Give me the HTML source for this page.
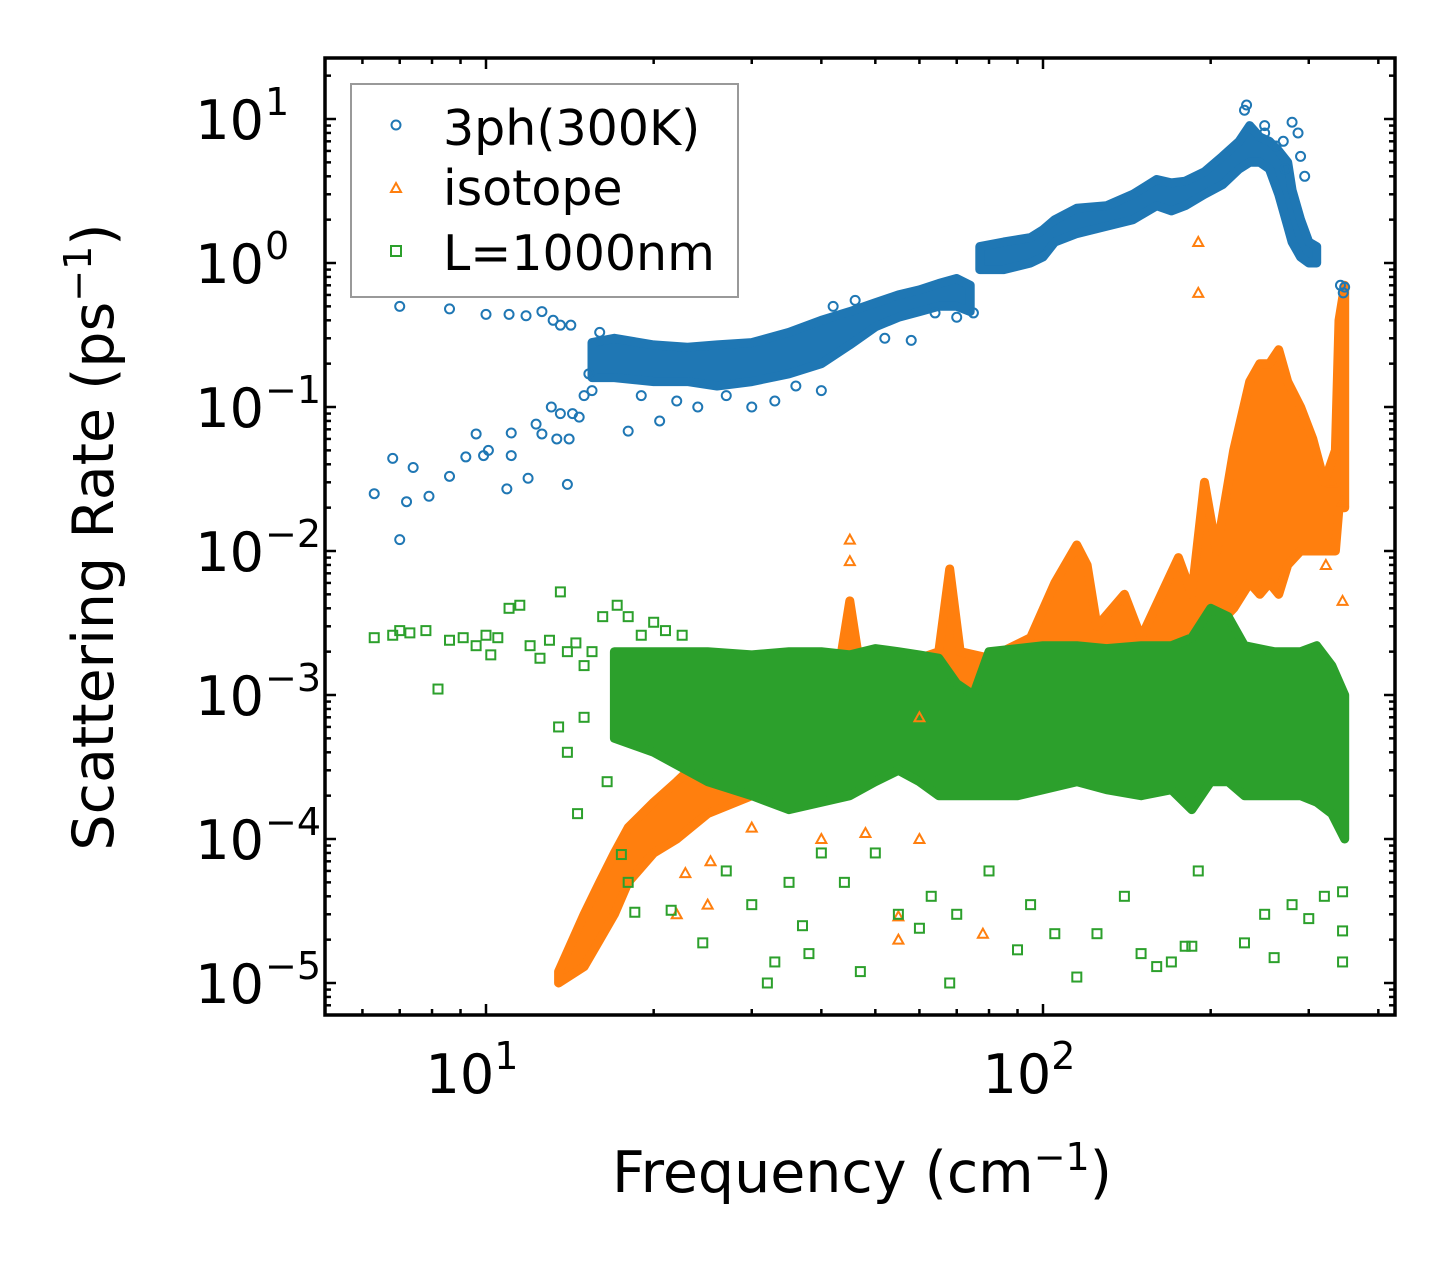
<!DOCTYPE html>
<html><head><meta charset="utf-8"><style>
html,body{margin:0;padding:0;background:#fff;}
svg{display:block;font-family:"DejaVu Sans","Liberation Sans",sans-serif;}
</style></head><body>
<svg id="chart" width="1455" height="1265" viewBox="0 0 1455 1265" xmlns="http://www.w3.org/2000/svg">
<rect width="1455" height="1265" fill="#fff"/>
<g id="bands"></g>
<g id="marks"></g>
<g id="axes"></g>
<g id="legend">
<rect x="351" y="84" width="387" height="213" fill="#fff" fill-opacity="0.8" stroke="#999" stroke-width="2"/>
<circle cx="396" cy="125" r="4.5" fill="none" stroke="#1f77b4" stroke-width="2"/>
<text x="443" y="145" font-size="49">3ph(300K)</text>
<path d="M396,183 L401,192 L391,192 Z" fill="none" stroke="#ff7f0e" stroke-width="2"/>
<text x="443" y="205" font-size="49">isotope</text>
<rect x="391" y="246" width="10" height="10" fill="none" stroke="#2ca02c" stroke-width="2"/>
<text x="443" y="270" font-size="49">L=1000nm</text>
</g>
<text x="862" y="1192" font-size="57" text-anchor="middle">Frequency (cm<tspan dy="-22" font-size="38">−1</tspan><tspan dy="22">)</tspan></text>
<text transform="translate(113,537) rotate(-90)" font-size="57" text-anchor="middle">Scattering Rate (ps<tspan dy="-22" font-size="38">−1</tspan><tspan dy="22">)</tspan></text>
</svg>
<script>
// ---- data ----
const blueBandFreq = [15.5,17,20,23,26,30,35,40,45,50,55,60,65,70,74];
const blueBandLo   = [0.16,0.16,0.15,0.15,0.14,0.15,0.17,0.2,0.27,0.36,0.42,0.46,0.5,0.5,0.46];
const blueBandHi   = [0.28,0.3,0.27,0.26,0.27,0.28,0.33,0.4,0.46,0.53,0.6,0.65,0.72,0.78,0.7];
const blueBand2Freq = [77,85,95,100,105,115,130,145,160,170,180,195,210,225,235,245,255,265,275,280,290,300,310];
const blueBand2Lo   = [0.9,0.9,1.0,1.1,1.4,1.6,1.8,2.0,2.5,2.3,2.5,3.0,3.5,4.5,5.0,5.0,4.5,3.0,1.8,1.4,1.1,1.0,1.0];
const blueBand2Hi   = [1.3,1.4,1.5,1.7,2.0,2.4,2.5,3.0,3.8,3.6,3.7,4.3,5.5,7.0,9.0,7.5,7.0,6.0,5.0,3.2,2.0,1.4,1.3];
const blueFreq = [6.3,6.8,7.0,7.2,7.4,7.9,8.6,9.2,9.6,9.9,10.1,10.9,11.1,11.1,11.9,12.3,12.6,13.1,13.4,13.6,14.0,14.1,14.3,14.7,15.0,15.3,15.5,7.0,8.6,10.0,11.0,11.8,12.6,13.2,13.6,14.2,16,18,19,20.5,22,24,27,30,33,36,40,42,46,52,58,64,70,75,230,232,250,262,272,280,287,290,295,342,346,348,250,270];
const blueRate = [0.025,0.044,0.012,0.022,0.038,0.024,0.033,0.045,0.065,0.046,0.05,0.027,0.066,0.046,0.032,0.076,0.065,0.1,0.06,0.09,0.029,0.06,0.09,0.085,0.12,0.17,0.13,0.5,0.48,0.44,0.44,0.43,0.46,0.4,0.37,0.37,0.33,0.068,0.12,0.08,0.11,0.1,0.12,0.1,0.11,0.14,0.13,0.5,0.55,0.3,0.29,0.45,0.42,0.45,11.5,12.5,8,6.5,4.5,9.5,8.0,5.5,4.0,0.7,0.62,0.68,9,7];

const orBandFreq = [13.5,15,16,17,18,20,22,25,30,35,40,43,45,47,55,65,68,71,80,95,105,115,120,125,140,150,175,185,195,205,220,235,245,255,265,275,290,305,320,335,340,348];
const orBandLo   = [1e-5,1.3e-5,2e-5,3e-5,5e-5,8e-5,1e-4,1.5e-4,2e-4,3e-4,4e-4,5e-4,6e-4,6e-4,8e-4,9e-4,9e-4,8e-4,1e-3,1e-3,1.2e-3,1.3e-3,1.3e-3,1.3e-3,1.5e-3,1.5e-3,1.6e-3,2e-3,3e-3,3e-3,4e-3,6e-3,5e-3,6e-3,5e-3,8e-3,1e-2,1e-2,1e-2,1e-2,2e-2,2e-2];
const orBandHi   = [1.2e-5,3e-5,5e-5,8e-5,1.2e-4,1.8e-4,2.5e-4,4e-4,6e-4,9e-4,1.2e-3,1.5e-3,4.5e-3,1.5e-3,1.6e-3,2e-3,7.5e-3,2e-3,1.8e-3,2.5e-3,6e-3,1.1e-2,8e-3,3e-3,5e-3,2.5e-3,9e-3,5e-3,3e-2,1e-2,5e-2,0.15,0.2,0.2,0.25,0.15,0.1,0.06,0.03,0.05,0.4,0.7];
const orFreq = [45,45,55,55,78,190,190,322,345,345,330,30,25,22,40,60,48,60,22.8,25.3];
const orRate = [0.012,0.0085,2.9e-5,2e-5,2.2e-5,1.4,0.62,0.008,0.0045,0.022,0.03,1.2e-4,3.5e-5,3e-5,1e-4,1e-4,1.1e-4,7e-4,5.8e-5,7e-5];

const grBandFreq = [17,20,25,30,35,40,45,50,55,60,65,70,75,80,90,100,115,130,150,170,185,200,215,230,260,290,310,330,348];
const grBandLo   = [5e-4,4e-4,2.5e-4,2e-4,1.6e-4,1.8e-4,2e-4,2.5e-4,3e-4,2.5e-4,2e-4,2e-4,2e-4,2e-4,2e-4,2.2e-4,2.5e-4,2.2e-4,2e-4,2.2e-4,1.6e-4,2.5e-4,2.5e-4,2e-4,2e-4,2e-4,1.8e-4,1.5e-4,1e-4];
const grBandHi   = [2e-3,2e-3,2e-3,1.9e-3,2e-3,2e-3,1.9e-3,2.1e-3,2e-3,1.9e-3,1.8e-3,1.2e-3,1e-3,2e-3,2.1e-3,2.2e-3,2.2e-3,2.1e-3,2.2e-3,2.2e-3,2.5e-3,4e-3,3.5e-3,2.2e-3,2e-3,2e-3,2.2e-3,1.6e-3,1e-3];
const grFreq = [6.3,6.8,7.0,7.3,7.8,8.2,8.6,9.1,9.6,10,10.2,10.5,11,11.5,12,12.5,13,13.6,14,14.5,15,15.5,16.2,17.2,18,19,20,21,22.5,14.6,13.5,14,15,16.5,17.5,18,18.5,21.5,24.5,27,30,32,33,35,37,38,40,44,47,50,55,60,63,68,70,80,90,95,105,115,125,140,150,160,170,180,185,190,230,250,260,280,300,320,345,345,345];
const grRate = [2.5e-3,2.6e-3,2.8e-3,2.7e-3,2.8e-3,1.1e-3,2.4e-3,2.5e-3,2.2e-3,2.6e-3,1.9e-3,2.5e-3,4e-3,4.2e-3,2.2e-3,1.8e-3,2.4e-3,5.2e-3,2e-3,2.3e-3,1.6e-3,2e-3,3.5e-3,4.2e-3,3.5e-3,2.6e-3,3.2e-3,2.8e-3,2.6e-3,1.5e-4,6e-4,4e-4,7e-4,2.5e-4,7.8e-5,5e-5,3.1e-5,3.2e-5,1.9e-5,6e-5,3.5e-5,1e-5,1.4e-5,5e-5,2.5e-5,1.6e-5,8e-5,5e-5,1.2e-5,8e-5,3e-5,2.4e-5,4e-5,1e-5,3e-5,6e-5,1.7e-5,3.5e-5,2.2e-5,1.1e-5,2.2e-5,4e-5,1.6e-5,1.3e-5,1.4e-5,1.8e-5,1.8e-5,6e-5,1.9e-5,3e-5,1.5e-5,3.5e-5,2.8e-5,4e-5,2.3e-5,1.4e-5,4.3e-5];

const xTickVals = [10,100];
const xTickLabels = ["1","2"];
const yTickVals = [1e1,1e0,1e-1,1e-2,1e-3,1e-4,1e-5];
const yTickLabels = ["1","0","−1","−2","−3","−4","−5"];

// ---- axes ----
const L=325,R=1395,T=58,B=1015;
function xs(f){return 486+557*Math.log10(f/10);}
function ys(v){return 263-144*Math.log10(v);}
const NS="http://www.w3.org/2000/svg";
function mk(tag,attrs,parent){const e=document.createElementNS(NS,tag);for(const k in attrs)e.setAttribute(k,attrs[k]);parent.appendChild(e);return e;}
const bands=document.getElementById('bands'),marks=document.getElementById('marks'),axes=document.getElementById('axes');

function band(fr,lo,hi,color,name){
  let d='';
  fr.forEach((f,i)=>{d+=(i?'L':'M')+xs(f).toFixed(1)+','+ys(hi[i]).toFixed(1);});
  for(let i=fr.length-1;i>=0;i--){d+='L'+xs(fr[i]).toFixed(1)+','+ys(lo[i]).toFixed(1);}
  const p=mk('path',{d:d+'Z',fill:color,stroke:color,'stroke-width':9,'stroke-linejoin':'round'},bands);
  
  
}
band(blueBandFreq,blueBandLo,blueBandHi,'#1f77b4','band-3ph-low');
band(blueBand2Freq,blueBand2Lo,blueBand2Hi,'#1f77b4','band-3ph-high');
band(orBandFreq,orBandLo,orBandHi,'#ff7f0e','band-isotope');
band(grBandFreq,grBandLo,grBandHi,'#2ca02c','band-l1000nm');

blueFreq.forEach((f,i)=>{
  const c=mk('circle',{cx:xs(f),cy:ys(blueRate[i]),r:4.5,fill:'none',stroke:'#1f77b4','stroke-width':2},marks);
  
  
});
orFreq.forEach((f,i)=>{
  const x=xs(f),y=ys(orRate[i]);
  const p=mk('path',{d:`M${x},${y-5}L${x+5},${y+4}L${x-5},${y+4}Z`,fill:'none',stroke:'#ff7f0e','stroke-width':2},marks);
  
  
});
grFreq.forEach((f,i)=>{
  const x=xs(f),y=ys(grRate[i]);
  const r=mk('rect',{x:x-4.5,y:y-4.5,width:9,height:9,fill:'none',stroke:'#2ca02c','stroke-width':2},marks);
  
  
});

// frame
const fr=mk('rect',{x:L,y:T,width:R-L,height:B-T,fill:'none',stroke:'#000','stroke-width':3.5},axes);


// x ticks
for(let dec=1;dec<=100;dec*=10){for(let m=1;m<10;m++){const f=dec*m;const x=xs(f);if(x<L||x>R)continue;const len=(m===1)?11:6;
  mk('line',{x1:x,y1:B,x2:x,y2:B-len,stroke:'#000','stroke-width':2.5},axes);
  mk('line',{x1:x,y1:T,x2:x,y2:T+len,stroke:'#000','stroke-width':2.5},axes);}}
xTickVals.forEach((v,i)=>{
  const t=mk('text',{x:xs(v)-14,y:1093,'font-size':54,'text-anchor':'middle'},axes);
  t.textContent='10';
  const s=mk('tspan',{dy:-24,'font-size':38},t);s.textContent=xTickLabels[i];
  
  
});
// y ticks
for(let e=-6;e<=1;e++){for(let m=1;m<10;m++){const v=m*Math.pow(10,e);const y=ys(v);if(y<T||y>B)continue;const len=(m===1)?11:6;
  mk('line',{x1:L,y1:y,x2:L+len,y2:y,stroke:'#000','stroke-width':2.5},axes);
  mk('line',{x1:R,y1:y,x2:R-len,y2:y,stroke:'#000','stroke-width':2.5},axes);}}
yTickVals.forEach((v,i)=>{
  const y=ys(v);
  const t=mk('text',{x:264,y:y+20,'font-size':54,'text-anchor':'end'},axes);
  t.textContent='10';
  
  
  const s=mk('text',{x:265,y:y-4,'font-size':38,'text-anchor':'start'},axes);
  s.textContent=yTickLabels[i];
  
  
});
</script>
</body></html>
